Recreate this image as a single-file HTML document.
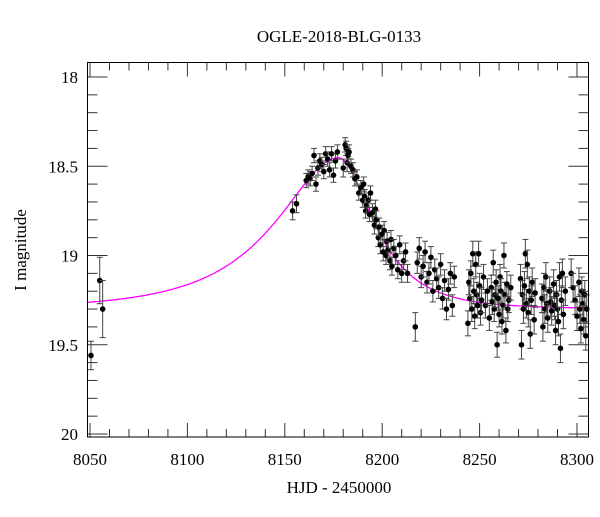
<!DOCTYPE html>
<html><head><meta charset="utf-8"><style>
body{margin:0;background:#fff;}
svg text{font-family:"Liberation Serif",serif;fill:#000;}
</style></head><body>
<svg id="chart" width="600" height="512" viewBox="0 0 600 512" xmlns="http://www.w3.org/2000/svg">
<text x="339" y="42" font-size="17" text-anchor="middle">OGLE-2018-BLG-0133</text>
<text x="339" y="493" font-size="17" text-anchor="middle">HJD - 2450000</text>
<text transform="translate(26,250) rotate(-90)" font-size="17" text-anchor="middle">I magnitude</text>
<g id="ticks"></g>
<g id="model"></g>
<g id="pts"></g>
<rect x="87.5" y="62.5" width="501" height="374.5" fill="none" stroke="#000" stroke-width="1"/>
</svg>
<script>
const xTicks=[8050,8100,8150,8200,8250,8300];
const yTicks=[18,18.5,19,19.5,20];
const times=[8050.5,8055,8056.5,8154,8156,8161,8162,8163,8164,8165,8166,8167,8168,8169,8170,8171,8172,8173,8174,8175,8176,8177,8180,8181,8181.5,8182,8182.5,8183,8184,8185,8186,8187,8188,8189,8190,8190.5,8191,8191.5,8192,8193,8193.5,8194,8195,8196,8196.5,8197,8198,8198.5,8199,8200,8200.5,8201,8202,8202.5,8203,8204,8204.5,8205,8206,8207,8208,8209,8210,8211,8212,8213,8217,8218,8219,8220,8221,8222,8223,8224,8225,8226,8227,8228,8229,8230,8231,8232,8233,8234,8235,8236,8237,
8244,8244.5,8245,8245.5,8246,8246.5,8247,8247.5,8248,8248.5,8249,8249.5,8250,8250.5,8251,8252,8253,8254,8255,8256,8256.5,8257,8257.5,8258,8258.5,8259,8259.5,8260,8260.5,8261,8261.5,8262,8262.5,8263,8263.5,8264,8264.5,8265,8266,
8271,8271.5,8272,8272.5,8273,8273.5,8274,8274.5,8275,8275.5,8276,8276.5,8277,8278,8278.5,
8282,8282.5,8283,8283.5,8284,8284.5,8285,8286,8286.5,8287,8288,8288.5,8289,8289.5,8290,8290.5,8291,8291.5,8292,8292.5,8293,8294,
8297,8298,8299,8300,8301,8301.5,8302,8302.5,8303,8303.5,8304,8304.5,8305];
const mags=[19.56,19.14,19.3,18.75,18.71,18.58,18.56,18.57,18.54,18.44,18.6,18.51,18.47,18.49,18.53,18.43,18.46,18.52,18.43,18.55,18.47,18.42,18.51,18.38,18.4,18.48,18.44,18.42,18.5,18.52,18.57,18.56,18.65,18.62,18.69,18.6,18.67,18.75,18.72,18.69,18.77,18.65,18.76,18.83,18.74,18.8,18.9,18.84,18.94,18.88,18.98,18.86,19.0,18.92,18.97,19.03,18.91,19.06,18.96,19.0,19.08,18.94,19.1,19.03,18.98,19.1,19.4,19.04,18.96,19.12,19.06,18.98,19.15,19.1,19.01,19.2,19.08,19.13,19.18,19.05,19.24,19.14,19.3,19.19,19.1,19.28,19.12,
19.38,19.15,19.24,19.1,19.3,18.99,19.2,19.34,19.05,19.22,19.28,18.99,19.17,19.32,19.25,19.12,19.28,19.2,19.35,19.18,19.26,19.04,19.3,19.22,19.15,19.5,19.24,19.33,19.12,19.2,19.37,19.28,19.0,19.22,19.42,19.16,19.3,19.25,19.18,
19.13,19.5,19.22,19.3,19.17,18.99,19.27,19.05,19.32,19.2,19.44,19.25,19.15,19.36,19.21,
19.24,19.4,19.18,19.3,19.12,19.27,19.35,19.2,19.26,19.31,19.16,19.28,19.42,19.22,19.3,19.37,19.12,19.52,19.25,19.1,19.33,19.2,
19.1,19.18,19.25,19.34,19.15,19.3,19.41,19.2,19.27,19.36,19.22,19.45,19.3];
const errs=[0.08,0.13,0.16,0.05,0.05,0.04,0.04,0.04,0.04,0.04,0.04,0.04,0.04,0.04,0.04,0.04,0.04,0.04,0.04,0.04,0.04,0.04,0.05,0.04,0.04,0.05,0.04,0.04,0.04,0.04,0.04,0.04,0.04,0.04,0.04,0.04,0.04,0.04,0.04,0.04,0.04,0.04,0.05,0.05,0.05,0.05,0.05,0.05,0.05,0.05,0.05,0.05,0.05,0.05,0.05,0.05,0.05,0.05,0.05,0.05,0.05,0.05,0.05,0.05,0.05,0.05,0.08,0.06,0.06,0.06,0.06,0.06,0.06,0.06,0.06,0.06,0.06,0.06,0.06,0.06,0.06,0.06,0.06,0.06,0.06,0.06,0.06,
0.07,0.07,0.07,0.07,0.07,0.07,0.07,0.07,0.07,0.07,0.07,0.07,0.07,0.07,0.07,0.07,0.07,0.07,0.07,0.07,0.07,0.07,0.07,0.07,0.07,0.07,0.07,0.07,0.07,0.07,0.07,0.07,0.07,0.07,0.07,0.07,0.07,0.07,0.07,
0.08,0.08,0.08,0.08,0.08,0.08,0.08,0.08,0.08,0.08,0.08,0.08,0.08,0.08,0.08,
0.08,0.08,0.08,0.08,0.08,0.08,0.08,0.08,0.08,0.08,0.08,0.08,0.08,0.08,0.08,0.08,0.08,0.08,0.08,0.08,0.08,0.08,
0.08,0.08,0.08,0.08,0.08,0.08,0.08,0.08,0.08,0.08,0.08,0.08,0.08];
const modelParams=[8177.5,0.5,55,31,19.3];

const NS='http://www.w3.org/2000/svg';
const X0=87.5,X1=588.5,Y0=62.5,Y1=437;
const x=t=>90+(t-8050)*1.948;
const y=m=>77+(m-18)*178.5;
function el(tag,attrs,parent){const e=document.createElementNS(NS,tag);for(const k in attrs)e.setAttribute(k,attrs[k]);parent.appendChild(e);return e;}
const tk=document.getElementById('ticks');
for(let t=8050;t<=8305;t+=10){const major=(t%50===0);const L=major?14:8;const xx=x(t);
 let a=el('line',{x1:xx,x2:xx,y1:Y1,y2:Y1-L,stroke:'#333','stroke-width':1},tk);
 
 
 let b=el('line',{x1:xx,x2:xx,y1:Y0,y2:Y0+L,stroke:'#333','stroke-width':1},tk);
 
 }
xTicks.forEach(t=>{const tx=el('text',{x:x(t),y:465,'font-size':17,'text-anchor':'middle'},tk);tx.textContent=t;
 
 });
for(let i=0;i<=20;i++){const m=18+i*0.1;const major=(i%5===0);const L=major?20:10;const yy=y(m);if(yy>Y1)continue;
 let a=el('line',{x1:X0,x2:X0+L,y1:yy,y2:yy,stroke:'#333','stroke-width':1},tk);
 
 
 let b=el('line',{x1:X1,x2:X1-L,y1:yy,y2:yy,stroke:'#333','stroke-width':1},tk);
 
 }
yTicks.forEach(m=>{const tx=el('text',{x:78,y:y(m)+6,'font-size':17,'text-anchor':'end'},tk);tx.textContent=m;
 
 });
// model
const [t0,u0,tE1,tE2,base]=modelParams;let d='';
for(let t=8049;t<=8306;t+=0.5){const tE=t<t0?tE1:tE2;const u=Math.sqrt(u0*u0+((t-t0)/tE)**2);const A=(u*u+2)/(u*Math.sqrt(u*u+4));const m=base-2.5*Math.log10(A);const xx=Math.max(X0,Math.min(X1,x(t)));d+=(d?'L':'M')+xx.toFixed(1)+','+y(m).toFixed(1);}
const mp=el('path',{d:d,fill:'none',stroke:'#ff00ff','stroke-width':1.3},document.getElementById('model'));


// points
const pg=document.getElementById('pts');
times.forEach((t,i)=>{const xx=x(t),yy=y(mags[i]),e=errs[i]*178.5;
 const g=el('g',{},pg);
 
 
 el('line',{x1:xx,x2:xx,y1:yy-e,y2:yy+e,stroke:'#444','stroke-width':1},g);
 el('line',{x1:xx-3,x2:xx+3,y1:yy-e,y2:yy-e,stroke:'#444','stroke-width':1},g);
 el('line',{x1:xx-3,x2:xx+3,y1:yy+e,y2:yy+e,stroke:'#444','stroke-width':1},g);
 el('circle',{cx:xx,cy:yy,r:2.8,fill:'#000'},g);});
</script>
</body></html>
